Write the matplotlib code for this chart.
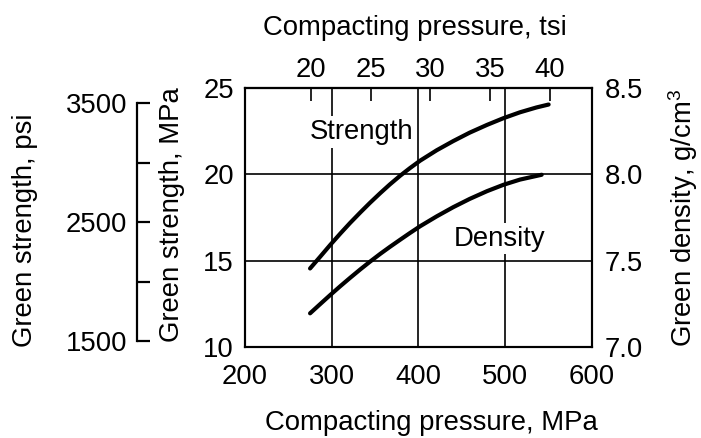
import matplotlib
matplotlib.use('Agg')
import matplotlib.pyplot as plt
from matplotlib.ticker import FormatStrFormatter

plt.rcParams['font.family'] = ['Liberation Sans', 'DejaVu Sans']
plt.rcParams['mathtext.default'] = 'regular'
plt.rcParams['font.size'] = 19.8

# values
strength_p = [275, 287, 298, 310, 321, 333, 344, 356, 367, 379, 390, 402,
              421, 440, 459, 479, 498, 517, 536, 550]       # MPa
strength = [14.55, 15.25, 15.9, 16.58, 17.18, 17.8, 18.35, 18.92, 19.42, 19.93,
            20.36, 20.8, 21.4, 21.93, 22.42, 22.87, 23.26, 23.6, 23.88, 24.05]  # MPa
density_p = [275, 287, 298, 310, 321, 333, 344, 356, 367, 379, 390, 402,
             421, 440, 459, 479, 498, 517, 542]             # MPa
density = [7.195, 7.25, 7.30, 7.353, 7.40, 7.45, 7.494, 7.54, 7.58, 7.622,
           7.66, 7.70, 7.757, 7.81, 7.858, 7.903, 7.94, 7.97, 7.998]  # g/cm3

mpa_ticks = [200, 300, 400, 500, 600]
tsi_ticks = [20, 25, 30, 35, 40]
str_ticks = [10, 15, 20, 25]
dens_ticks = [7.0, 7.5, 8.0, 8.5]
psi_ticks = [1500, 2500, 3500]
psi_minor = [2000, 3000]

MPA_PER_TSI = 13.79
MPA_PER_PSI = 0.006895

fig = plt.figure(figsize=(7.01, 4.38), dpi=100)
ax = fig.add_axes([0.3495, 0.2078, 0.495, 0.591])
ax.set_xlim(200, 600)
ax.set_ylim(10, 25)
ax.set_xticks(mpa_ticks)
ax.set_yticks(str_ticks)
ax.grid(True, color='black', lw=1.2)
ax.tick_params(axis='x', length=0, pad=12)
ax.tick_params(axis='y', length=0, pad=8)
for s in ax.spines.values():
    s.set_linewidth(1.5)

ax.plot(strength_p, strength, color='black', lw=3, solid_capstyle='round', zorder=3)
ax.text(334, 22.45, 'Strength', ha='center', va='center',
        bbox=dict(fc='white', ec='none', pad=2), zorder=2.5)
ax.text(494, 16.28, 'Density', ha='center', va='center',
        bbox=dict(fc='white', ec='none', pad=2), zorder=2.5)

# density on right axis
ax2 = ax.twinx()
ax2.set_ylim(7.0, 8.5)
ax2.set_yticks(dens_ticks)
ax2.yaxis.set_major_formatter(FormatStrFormatter('%.1f'))
ax2.tick_params(axis='y', length=0, pad=9)
ax2.plot(density_p, density, color='black', lw=3, solid_capstyle='round')
for s in ax2.spines.values():
    s.set_linewidth(1.5)

# tsi on top
top = ax.secondary_xaxis('top', functions=(lambda m: m / MPA_PER_TSI, lambda t: t * MPA_PER_TSI))
top.set_xticks(tsi_ticks)
top.tick_params(direction='in', length=9.4, width=1.2, pad=4)
top.spines['top'].set_linewidth(1.5)
top.set_xlabel('Compacting pressure, tsi')
top.xaxis.set_label_coords(0.49, 1.205, transform=ax.transAxes)

# psi scale on the far left
ax3 = fig.add_axes(ax.get_position().bounds)
ax3.patch.set_visible(False)
for k in ['top', 'right', 'bottom']:
    ax3.spines[k].set_visible(False)
ax3.spines['left'].set_position(('axes', -0.311))
ax3.spines['left'].set_linewidth(1.6)
ax3.set_ylim(10 / MPA_PER_PSI, 25 / MPA_PER_PSI)
ax3.spines['left'].set_bounds(1500, 3500)
ax3.set_yticks(psi_ticks)
ax3.set_yticks(psi_minor, minor=True)
ax3.set_xticks([])
ax3.tick_params(axis='y', which='both', direction='in', length=9, width=1.6, pad=7)

ax.set_xlabel('Compacting pressure, MPa')
ax.xaxis.set_label_coords(0.536, -0.243)
ax.set_ylabel('Green strength, MPa')
ax.yaxis.set_label_coords(-0.173, 0.51)
ax3.set_ylabel('Green strength, psi')
ax3.yaxis.set_label_coords(-0.597, 0.452)
ax2.set_ylabel('Green density, g/cm$^3$')
ax2.yaxis.set_label_coords(1.213, 0.5)

fig.savefig('out.png', dpi=100)
